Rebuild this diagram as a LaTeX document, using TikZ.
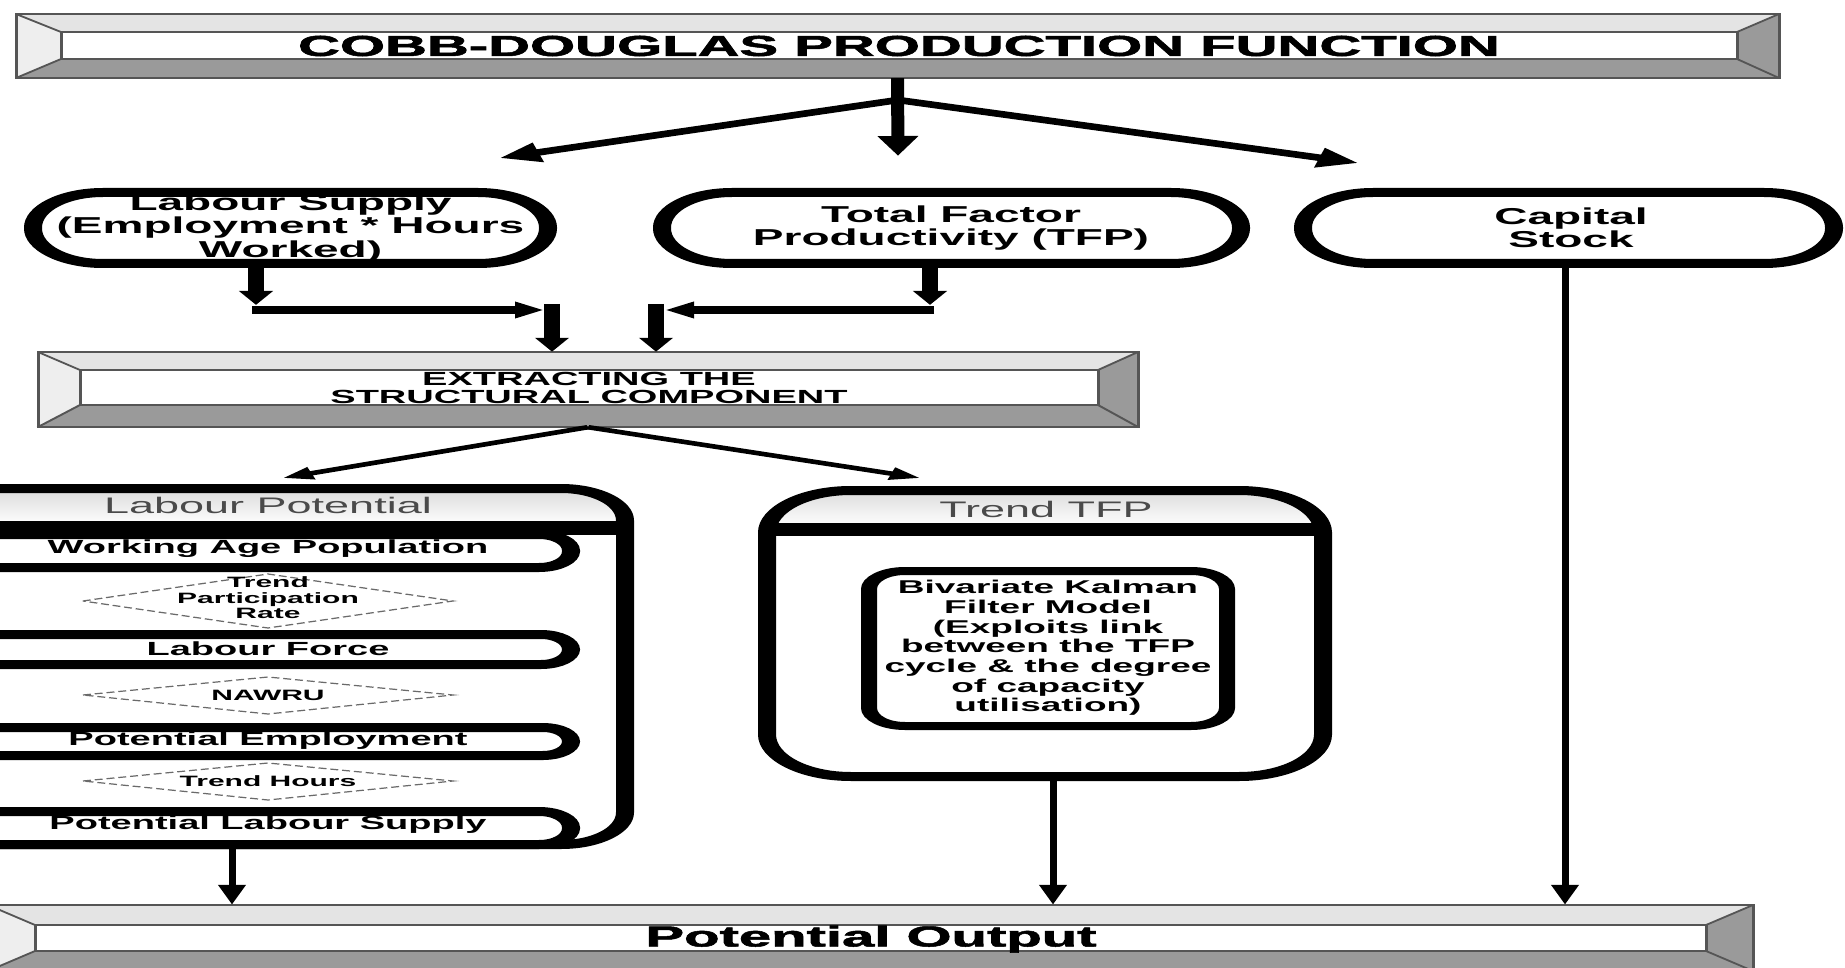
\documentclass[tikz,border=0pt]{standalone}
\usepackage{fontspec}
\setmainfont{Liberation Sans}
\newfontfamily\blackfont{Liberation Sans Bold}[FakeBold=1.6]
\usetikzlibrary{arrows.meta,fit,calc}
\definecolor{bevL}{HTML}{E4E4E4}
\definecolor{bevLL}{HTML}{EEEEEE}
\definecolor{bevD}{HTML}{9A9A9A}
\definecolor{bevE}{HTML}{555555}
\definecolor{hdrtxt}{HTML}{4A4A4A}
\definecolor{diaE}{HTML}{6A6A6A}
\tikzset{
  bevedge/.style={draw=bevE, line width=1.5pt},
  stad/.style={draw=black, line width=9pt, fill=white},
  fitbox/.style={inner sep=0pt, draw=none},
  dia/.style={draw=diaE, line width=1.2pt, dash pattern=on 4pt off 2pt, fill=white},
  ttltxt/.style={inner sep=0pt, font=\fontsize{29}{31}\selectfont\blackfont},
  pottxt/.style={inner sep=0pt, font=\fontsize{29}{32}\selectfont\blackfont},
  midtxt/.style={inner sep=0pt, align=center, font=\fontsize{23}{23.5}\selectfont\bfseries},
  extxt/.style={inner sep=0pt, align=center, font=\fontsize{19}{18}\selectfont\bfseries},
  hdtxt/.style={inner sep=0pt, text=hdrtxt, font=\fontsize{22.5}{24}\selectfont},
  inrtxt/.style={inner sep=0pt, font=\fontsize{19}{20}\selectfont\bfseries},
  diatxt/.style={inner sep=0pt, align=center, font=\fontsize{15}{15.5}\selectfont\bfseries},
  kaltxt/.style={inner sep=0pt, align=center, font=\fontsize{18.5}{19.7}\selectfont\bfseries},
  arrTop/.style={line width=6.5pt, -{Triangle[length=20pt,width=19pt]}},
  arrMid/.style={line width=8pt, -{Triangle[length=14pt,width=16pt]}},
  arrThin/.style={line width=4.5pt, -{Triangle[length=15pt,width=12pt]}},
  arrBot/.style={line width=3.5pt, -{Triangle[length=20pt,width=13pt]}},
}
\newcommand{\mybevelbar}[8]{%
  \fill[bevL] (#1,#2) -- (#3,#2) -- (#7,#6) -- (#5,#6) -- cycle;
  \fill[bevLL] (#1,#2) -- (#5,#6) -- (#5,#8) -- (#1,#4) -- cycle;
  \fill[bevD] (#1,#4) -- (#5,#8) -- (#7,#8) -- (#3,#4) -- cycle;
  \fill[bevD] (#3,#2) -- (#3,#4) -- (#7,#8) -- (#7,#6) -- cycle;
  \draw[bevedge] (#1,#2) rectangle (#3,#4);
  \draw[bevedge] (#1,#2) -- (#5,#6) (#3,#2) -- (#7,#6) (#1,#4) -- (#5,#8) (#3,#4) -- (#7,#8);
  \filldraw[bevedge, fill=white] (#5,#6) rectangle (#7,#8);
}
\begin{document}
\begin{tikzpicture}[x=1pt,y=-1pt]
\useasboundingbox (0,0) rectangle (1845,968);
\clip (0,0) rectangle (1845,968);
\fill[white] (0,0) rectangle (1845,968);
\begin{scope}[x=0.5pt, y=-1pt, transform canvas={xscale=2}]
% ---------- title bar
\mybevelbar{16}{14}{1779}{78}{61}{32}{1737}{59}
\node[fitbox, fit={(16,14) (1779,78)}] (title) {};
\node[ttltxt] at (899,46) {COBB-DOUGLAS PRODUCTION FUNCTION};
% ---------- second row
\draw[stad, rounded corners=35pt] (33,192.5) rectangle (548,263.5);
\node[fitbox, fit={(24,188) (557,268)}] (ls) {};
\node[midtxt] at (ls.center) {Labour Supply\\(Employment * Hours\\Worked)};
\draw[stad, rounded corners=35pt] (662,192.5) rectangle (1241,263.5);
\node[fitbox, fit={(653,188) (1250,268)}] (tfp) {};
\node[midtxt] at (951,228) {Total Factor\\Productivity (TFP)};
\draw[stad, rounded corners=35pt] (1303,192.5) rectangle (1834,263.5);
\node[fitbox, fit={(1294,188) (1843,268)}] (cap) {};
\node[midtxt] at (1571,228) {Capital\\Stock};
% ---------- extracting bar
\mybevelbar{38}{352}{1138}{427}{80}{370}{1098}{405}
\node[fitbox, fit={(38,352) (1138,427)}] (extr) {};
\node[extxt] at (589,388) {EXTRACTING THE\\STRUCTURAL COMPONENT};
% ---------- Labour Potential container
\fill[white, rounded corners=32pt] (-80,488.5) rectangle (625,844.5);
\begin{scope}
  \clip[rounded corners=32pt] (-80,488.5) rectangle (625,844.5);
  \shade[top color=gray!35, bottom color=gray!3] (-90,480) rectangle (640,521);
  \fill[black] (-90,521) rectangle (640,535);
\end{scope}
\draw[line width=9pt, rounded corners=32pt] (-80,488.5) rectangle (625,844.5);
\node[fitbox, fit={(-84,484) (634,849)}] (lpot) {};
\node[hdtxt] at (268,505) {Labour Potential};
\draw[stad, rounded corners=16pt] (-80,534.5) rectangle (571,567.5);
\node[fitbox, fit={(-84,530) (580,572)}] (wap) {};
\node[inrtxt] at (268,549) {Working Age Population};
\draw[dia] (83,601) -- (268,574) -- (453,601) -- (268,628) -- cycle;
\node[fitbox, fit={(83,574) (453,628)}] (tpr) {};
\node[diatxt] at (268,598) {Trend\\Participation\\Rate};
\draw[stad, rounded corners=15pt] (-80,634.5) rectangle (571,664.5);
\node[fitbox, fit={(-84,630) (580,669)}] (lf) {};
\node[inrtxt] at (268,649) {Labour Force};
\draw[dia] (83,695) -- (268,677) -- (453,695) -- (268,714) -- cycle;
\node[fitbox, fit={(83,677) (453,714)}] (nawru) {};
\node[diatxt] at (268,695) {NAWRU};
\draw[stad, rounded corners=14pt] (-80,727.5) rectangle (571,755.5);
\node[fitbox, fit={(-84,723) (580,760)}] (pe) {};
\node[inrtxt] at (268,741) {Potential Employment};
\draw[dia] (83,781) -- (268,763) -- (453,781) -- (268,800) -- cycle;
\node[fitbox, fit={(83,763) (453,800)}] (th) {};
\node[diatxt] at (268,781) {Trend Hours};
\draw[stad, rounded corners=16pt] (-80,811.5) rectangle (571,844.5);
\node[fitbox, fit={(-84,807) (580,849)}] (pls) {};
\node[inrtxt] at (268,825) {Potential Labour Supply};
% ---------- Trend TFP container
\fill[white, rounded corners=42pt] (767,490.5) rectangle (1323,776.5);
\begin{scope}
  \clip[rounded corners=42pt] (767,490.5) rectangle (1323,776.5);
  \shade[top color=gray!35, bottom color=gray!3] (750,480) rectangle (1340,523);
  \fill[black] (750,523) rectangle (1340,536);
\end{scope}
\draw[line width=9pt, rounded corners=42pt] (767,490.5) rectangle (1323,776.5);
\node[fitbox, fit={(758,486) (1332,781)}] (ttfp) {};
\node[hdtxt] at (1046,509) {Trend TFP};
\draw[line width=8pt, rounded corners=18pt, fill=white] (869,571) rectangle (1227,726);
\node[fitbox, fit={(861,567) (1235,730)}] (kal) {};
\node[kaltxt] at (1048,648) {Bivariate Kalman\\Filter Model\\(Exploits link\\between the TFP\\cycle \& the degree\\of capacity\\utilisation)};
% ---------- Potential Output bar
\mybevelbar{-12}{905}{1753}{971}{35}{925}{1706}{951}
\node[fitbox, fit={(-12,905) (1753,971)}] (pout) {};
\node[pottxt] at (871,939) {Potential Output};
% ---------- connectors: top
\coordinate (tsplit) at (898,100);
\coordinate (tl) at (500,158);
\coordinate (tm) at (898,156);
\coordinate (tr) at (1358,163);
\draw[arrTop] (title.south) -- (tm);
\draw[arrTop] (tsplit) -- (tl);
\draw[arrTop] (tsplit) -- (tr);
% ---------- connectors: second row to extracting bar
\coordinate (lsd) at (256,305);
\coordinate (lsh1) at (252,310);
\coordinate (lsh2) at (543,310);
\coordinate (lsv) at (552,304);
\draw[arrMid] (ls.south -| lsd) -- (lsd);
\draw[arrMid] (lsh1) -- (lsh2);
\draw[arrMid] (lsv) -- (extr.north -| lsv);
\coordinate (tfd) at (930,305);
\coordinate (tfh1) at (934,310);
\coordinate (tfh2) at (666,310);
\coordinate (tfv) at (656,304);
\draw[arrMid] (tfp.south -| tfd) -- (tfd);
\draw[arrMid] (tfh1) -- (tfh2);
\draw[arrMid] (tfv) -- (extr.north -| tfv);
% ---------- connectors: extracting bar to containers
\coordinate (el) at (283,478);
\coordinate (er) at (920,478);
\draw[arrThin] (extr.south) -- (el);
\draw[arrThin] (extr.south) -- (er);
% ---------- connectors: to potential output
\coordinate (b1) at (232,0);
\coordinate (b2) at (1053,0);
\coordinate (b3) at (1565,0);
\draw[arrBot] (lpot.south -| b1) -- (pout.north -| b1);
\draw[arrBot] (ttfp.south -| b2) -- (pout.north -| b2);
\draw[arrBot] (cap.south -| b3) -- (pout.north -| b3);
\end{scope}
\end{tikzpicture}
\end{document}
